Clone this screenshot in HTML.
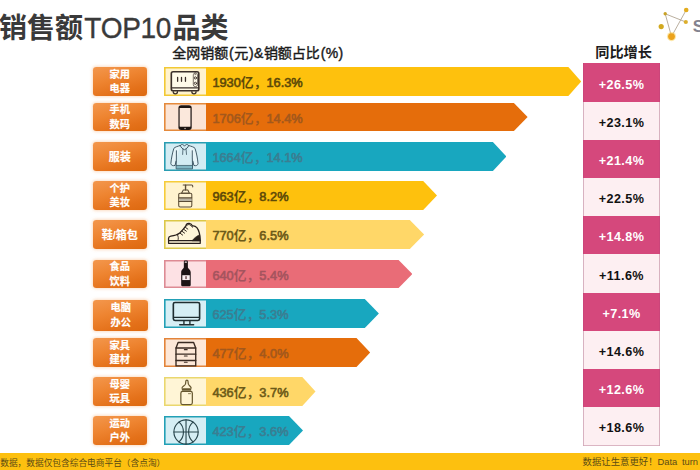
<!DOCTYPE html>
<html lang="zh-CN"><head><meta charset="utf-8"><title>销售额TOP10品类</title>
<style>
*{box-sizing:border-box}
html,body{margin:0;padding:0}
body{width:700px;height:470px;position:relative;overflow:hidden;background:#fff;font-family:"Liberation Sans","Noto Sans CJK SC",sans-serif;color:#222}
.t{font-family:"Liberation Sans","Noto Sans CJK SC",sans-serif;line-height:1;white-space:nowrap}
.abs{position:absolute;white-space:nowrap}
#title{left:-1px;top:12.2px;font-size:28px;line-height:34px;color:#3a3a3a;letter-spacing:0}
#title .t{font-weight:bold}
#title .lat{-webkit-text-stroke:.35px currentColor;display:inline-block;width:89.4px;text-align:center;letter-spacing:-0.3px;transform:scaleY(1.055);transform-origin:0 82%}
#h1{left:172px;top:42.5px;font-size:14px;line-height:20px;color:#1a1a1a;font-weight:normal;letter-spacing:.35px;-webkit-text-stroke:.4px currentColor}
#h1 .t{margin:0 .8px 0 .2px;letter-spacing:0}
#h2{left:595.2px;top:42.3px;font-size:14.2px;line-height:20px;color:#1c1c1c;font-weight:bold}
.lab{position:absolute;left:92.5px;width:54.6px;border-radius:3.2px;background:linear-gradient(165deg,#f3974d 0%,#ee8430 40%,#e4711a 75%,#dd690f 100%);box-shadow:0 0 3px 1px rgba(244,160,90,.35);color:#fff;font-size:10.5px;text-align:center;display:flex;flex-direction:column;justify-content:center;align-items:center;padding-top:1.2px}
.lab .ln{display:block;height:14.5px;line-height:14.5px}
.lab .t{-webkit-text-stroke:.2px #fff}
.ico{position:absolute;left:164px;width:42px}
.ico svg{position:absolute;left:0;top:0;overflow:visible}
.bar{position:absolute;left:206px}
.val{position:absolute;left:212.4px;font-size:12.8px;font-weight:normal;line-height:16px;letter-spacing:0;-webkit-text-stroke:.6px currentColor}
.val .t{font-weight:bold;-webkit-text-stroke:0 transparent}
#col{position:absolute;left:583px;top:63px;width:77px;height:383px;background:#fdeff2;box-shadow:inset 0 0 0 .8px #cfa3b4}
.cell{position:absolute;left:0;width:100%;text-align:center;font-weight:bold;font-size:12.6px;letter-spacing:.4px;color:#111}
.cell.d{background:#d5487c;color:#fff;box-shadow:inset .8px 0 0 #c9457a,inset -.8px 0 0 #c9457a}
#foot{position:absolute;left:0;top:453px;width:700px;height:17px;background:#fdc00f}
#f1{left:0.2px;top:456.7px;font-size:8.7px;line-height:12px;color:#5c4c14}
#f2{left:582.6px;top:455.5px;font-size:9.4px;line-height:12px;color:#5c4c14;letter-spacing:-.1px}
#f2 .t{letter-spacing:0}
#logo{position:absolute;left:650px;top:0;overflow:visible}
#logoS{left:692.8px;top:17.4px;font-size:17px;font-weight:bold;color:#83838f;line-height:20px}
</style></head>
<body>
<h1 id="title" class="abs" style="margin:0;font-weight:normal"><span class="t">销售额</span><span class="lat">TOP10</span><span class="t">品类</span></h1>
<div id="h1" class="abs"><span class="t">全网销额</span>(<span class="t">元</span>)&amp;<span class="t">销额占比</span>(%)</div>
<div id="h2" class="abs"><span class="t">同比增长</span></div>
<svg id="logo" width="50" height="45" viewBox="650 0 50 45" aria-hidden="true">
<g stroke="#a89a86" stroke-width="0.8" fill="none" stroke-linecap="round"><path d="M665.2 13.8L671.5 36.5L686.2 10M665.2 13.8L685.8 22"/></g>
<circle cx="665.2" cy="13.8" r="1.7" fill="#c9a227"/><circle cx="686.2" cy="10" r="2.3" fill="#e3ac1e"/>
<circle cx="685.8" cy="22" r="2.1" fill="#dcae2c"/><circle cx="661.2" cy="26.6" r="2.6" fill="#d2a91f"/>
<circle cx="671.5" cy="36.6" r="4.6" fill="#fbd35e" opacity=".55"/><circle cx="671.5" cy="36.6" r="3.4" fill="#eba21c"/>
</svg>
<div id="logoS" class="abs">S</div>
<section class="row" id="row1">
<div class="lab" style="top:67px;height:29px;font-size:10.2px;font-weight:bold"><span class="ln"><span class="t">家用</span></span><span class="ln"><span class="t">电器</span></span></div>
<div class="ico" style="top:67px;height:29px;background:#fff3cf;box-shadow:inset 1.6px 1.6px 0 #f2c935,inset 0 -1.6px 0 #f2c935"><svg width="42" height="29" viewBox="164 67 42 29" aria-hidden="true"><g transform="translate(160 62) scale(0.080838)"><g fill="none" stroke-linecap="round" stroke-linejoin="round" stroke="#3b302a" stroke-width="20">
<rect x="140" y="120" width="340" height="236" rx="22" fill="#fffbe9"/>
<path d="M142 320H478" stroke-width="17"/>
<rect x="412" y="136" width="52" height="168" rx="22" stroke-width="8"/>
<circle cx="438" cy="197" r="14" stroke-width="11"/><circle cx="438" cy="264" r="14" stroke-width="11"/>
<path d="M432 156H444" stroke-width="8"/>
<path d="M218 192V238M266 192V238M315 192V238" stroke-width="16"/>
<path d="M164 368a26 26 0 0 0 52 0M394 368a26 26 0 0 0 52 0" stroke-width="16"/>
</g></g></svg></div>
<div class="bar" style="top:67px;height:29px;width:375.2px;background:#fec10d;clip-path:polygon(0 0,362.4px 0,100% 50%,362.4px 100%,0 100%)"></div>
<div class="val" style="top:75px;color:#5e4a08">1930<span class="t">亿，</span>16.3%</div>
</section>
<section class="row" id="row2">
<div class="lab" style="top:103px;height:28px;font-size:10.2px;font-weight:bold"><span class="ln"><span class="t">手机</span></span><span class="ln"><span class="t">数码</span></span></div>
<div class="ico" style="top:103px;height:28px;background:#fbe4d5;box-shadow:inset 1.6px 1.6px 0 #e58a3c,inset 0 -1.6px 0 #e58a3c"><svg width="42" height="28" viewBox="164 103 42 28" aria-hidden="true"><g transform="translate(160 98) scale(0.080838)"><g>
<rect x="228" y="90" width="164" height="306" rx="34" fill="#1c1412"/>
<rect x="243" y="124" width="134" height="232" rx="6" fill="#fbe8dc"/>
<circle cx="310" cy="377" r="9" fill="#cdbcb2"/>
</g></g></svg></div>
<div class="bar" style="top:103px;height:28px;width:321.6px;background:#e56d0b;clip-path:polygon(0 0,307.9px 0,100% 50%,307.9px 100%,0 100%)"></div>
<div class="val" style="top:110.5px;color:#a3581c">1706<span class="t">亿，</span>14.4%</div>
</section>
<section class="row" id="row3">
<div class="lab" style="top:142px;height:29px;font-size:11px;font-weight:bold"><span class="ln"><span class="t">服装</span></span></div>
<div class="ico" style="top:142px;height:29px;background:#d3ecf3;box-shadow:inset 1.6px 1.6px 0 #2a9db2,inset 0 -1.6px 0 #2a9db2"><svg width="42" height="29" viewBox="164 142 42 29" aria-hidden="true"><g transform="translate(160 137) scale(0.080838)"><g fill="none" stroke-linecap="round" stroke-linejoin="round" stroke="#3d5663" stroke-width="12">
<path d="M250 106C215 116 185 124 172 140C152 200 140 270 134 330C138 350 158 360 186 352L198 300" fill="#e6f4f8"/>
<path d="M355 106C390 116 420 124 433 140C453 200 465 270 471 330C467 350 447 360 419 352L407 300" fill="#e6f4f8"/>
<path d="M203 170C204 230 202 290 200 350V394H402V350C400 290 398 230 399 170" />
<path d="M200 352H402" stroke-width="10"/>
<path d="M202 356H400V392H202Z" fill="#3f8c9c" stroke="none" opacity=".55"/>
<path d="M250 106C262 86 288 88 302 114C316 88 342 86 355 106C345 130 325 148 302 158C279 148 260 130 250 106Z"/>
<path d="M284 148L280 216M322 148L328 216" stroke-width="10"/>
</g></g></svg></div>
<div class="bar" style="top:142px;height:29px;width:300.4px;background:#18a7bf;clip-path:polygon(0 0,286.9px 0,100% 50%,286.9px 100%,0 100%)"></div>
<div class="val" style="top:150px;color:#3a7e92">1664<span class="t">亿，</span>14.1%</div>
</section>
<section class="row" id="row4">
<div class="lab" style="top:181px;height:29px;font-size:10.2px;font-weight:bold"><span class="ln"><span class="t">个护</span></span><span class="ln"><span class="t">美妆</span></span></div>
<div class="ico" style="top:181px;height:29px;background:#fff3cf;box-shadow:inset 1.6px 1.6px 0 #f6cc3a,inset 0 -1.6px 0 #f6cc3a"><svg width="42" height="29" viewBox="164 181 42 29" aria-hidden="true"><g transform="translate(160 177) scale(0.080838)"><g fill="none" stroke-linecap="round" stroke-linejoin="round" stroke="#5a4b35" stroke-width="13">
<path d="M287 100H392C402 100 406 108 405 122"/>
<path d="M316 102V160" stroke-width="17"/>
<path d="M288 160H344L364 200H266Z"/>
<rect x="231.500" y="200" width="162" height="172" rx="18"/>
<path d="M236 300H390V262H236Z" fill="#b9b3a4" stroke="none"/>
<path d="M234 258H392M234 304H392"/>
</g></g></svg></div>
<div class="bar" style="top:181px;height:29px;width:231px;background:#fec10d;clip-path:polygon(0 0,217.2px 0,100% 50%,217.2px 100%,0 100%)"></div>
<div class="val" style="top:189px;color:#5e4a08">963<span class="t">亿，</span>8.2%</div>
</section>
<section class="row" id="row5">
<div class="lab" style="top:220px;height:29px;font-size:11px;font-weight:bold"><span class="ln"><span class="t">鞋</span>/<span class="t">箱包</span></span></div>
<div class="ico" style="top:220px;height:29px;background:#fff6da;box-shadow:inset 1.6px 1.6px 0 #dcc848,inset 0 -1.6px 0 #dcc848"><svg width="42" height="29" viewBox="164 220 42 29" aria-hidden="true"><g transform="translate(160 216) scale(0.080838)"><g fill="none" stroke-linecap="round" stroke-linejoin="round" stroke="#2a211c" stroke-width="16">
<path d="M106 304V276C106 262 116 254 134 250C176 244 214 234 244 210C274 180 302 150 320 122C324 100 342 90 362 92C382 94 394 104 402 124C420 120 440 128 456 144C482 176 496 240 498 304Z"/>
<path d="M106 304V338H498V304" stroke-width="15"/>
<path d="M216 232C228 256 230 282 222 302" stroke-width="11"/>
<path d="M250 214L280 236M274 190L304 212M296 166L326 188M316 142L344 162" stroke-width="12"/>
<path d="M324 124C336 106 356 100 372 110C382 120 390 132 402 140" stroke-width="10"/>
<path d="M398 304C422 272 452 248 490 232C494 256 497 280 497 304Z" fill="#2a211c" stroke-width="6"/>
</g></g></svg></div>
<div class="bar" style="top:220px;height:29px;width:218.1px;background:#ffd768;clip-path:polygon(0 0,203.8px 0,100% 50%,203.8px 100%,0 100%)"></div>
<div class="val" style="top:228px;color:#6d5a18">770<span class="t">亿，</span>6.5%</div>
</section>
<section class="row" id="row6">
<div class="lab" style="top:260px;height:28px;font-size:10.2px;font-weight:bold"><span class="ln"><span class="t">食品</span></span><span class="ln"><span class="t">饮料</span></span></div>
<div class="ico" style="top:260px;height:28px;background:#fde1e4;box-shadow:inset 1.6px 1.6px 0 #dd8b94,inset 0 -1.6px 0 #dd8b94"><svg width="42" height="28" viewBox="164 260 42 28" aria-hidden="true"><g transform="translate(160 255) scale(0.080838)"><g>
<path d="M295 84C295 74 301 68 310 68H330C339 68 345 74 345 84V150C345 168 380 178 380 214V372C380 380 375 386 367 386H275C267 386 262 380 262 372V214C262 178 295 168 295 150Z" fill="#1d1315"/>
<rect x="276" y="250" width="92" height="60" fill="#fbeef0"/>
<rect x="312" y="262" width="20" height="36" fill="#7a5a5e"/>
<rect x="304" y="80" width="30" height="16" rx="6" fill="#f3dfe1"/>
</g></g></svg></div>
<div class="bar" style="top:260px;height:28px;width:206.4px;background:#e96c77;clip-path:polygon(0 0,192.6px 0,100% 50%,192.6px 100%,0 100%)"></div>
<div class="val" style="top:267.5px;color:#a5545e">640<span class="t">亿，</span>5.4%</div>
</section>
<section class="row" id="row7">
<div class="lab" style="left:93.4px;top:300px;height:30.5px;font-size:10.2px;font-weight:bold"><span class="ln"><span class="t">电脑</span></span><span class="ln"><span class="t">办公</span></span></div>
<div class="ico" style="top:299px;height:29px;background:#d6eff5;box-shadow:inset 1.6px 1.6px 0 #22a0b6,inset 0 -1.6px 0 #22a0b6"><svg width="42" height="29" viewBox="164 299 42 29" aria-hidden="true"><g transform="translate(160 294) scale(0.080838)"><g fill="none" stroke-linecap="round" stroke-linejoin="round" stroke="#1f2e31" stroke-width="20">
<rect x="165" y="105" width="325" height="222" rx="20"/>
<path d="M170 290H486" stroke-width="16"/>
<path d="M296 330V376M370 330V376" stroke-width="17"/>
<path d="M244 380H416" stroke-width="18"/>
</g></g></svg></div>
<div class="bar" style="top:299px;height:29px;width:172.9px;background:#18a7bf;clip-path:polygon(0 0,158.8px 0,100% 50%,158.8px 100%,0 100%)"></div>
<div class="val" style="top:307px;color:#3a7e92">625<span class="t">亿，</span>5.3%</div>
</section>
<section class="row" id="row8">
<div class="lab" style="top:338px;height:29px;font-size:10.2px;font-weight:bold"><span class="ln"><span class="t">家具</span></span><span class="ln"><span class="t">建材</span></span></div>
<div class="ico" style="top:338px;height:29px;background:#fde7d7;box-shadow:inset 1.6px 1.6px 0 #e3843a,inset 0 -1.6px 0 #e3843a"><svg width="42" height="29" viewBox="164 338 42 29" aria-hidden="true"><g transform="translate(160 333) scale(0.080838)"><g fill="none" stroke-linecap="round" stroke-linejoin="round" stroke="#3a2a22" stroke-width="17">
<path d="M224 118H416L442 186H198Z"/>
<path d="M198 186V407H442V186"/>
<path d="M198 262H442M198 340H442"/>
<path d="M302 206H336M302 284H336M302 362H336" stroke-width="14"/>
</g></g></svg></div>
<div class="bar" style="top:338px;height:29px;width:164.2px;background:#e56d0b;clip-path:polygon(0 0,150.5px 0,100% 50%,150.5px 100%,0 100%)"></div>
<div class="val" style="top:346px;color:#a3581c">477<span class="t">亿，</span>4.0%</div>
</section>
<section class="row" id="row9">
<div class="lab" style="top:377px;height:29px;font-size:10.2px;font-weight:bold"><span class="ln"><span class="t">母婴</span></span><span class="ln"><span class="t">玩具</span></span></div>
<div class="ico" style="top:377px;height:29px;background:#fff5d6;box-shadow:inset 1.6px 1.6px 0 #ead76e,inset 0 -1.6px 0 #ead76e"><svg width="42" height="29" viewBox="164 377 42 29" aria-hidden="true"><g transform="translate(160 372) scale(0.080838)"><g fill="none" stroke-linecap="round" stroke-linejoin="round" stroke="#66572f" stroke-width="15">
<rect x="258" y="240" width="142" height="163" rx="22"/>
<path d="M270 216H386" stroke-width="30" stroke-linecap="butt"/>
<path d="M272 198C276 178 306 172 315 150C319 130 317 112 324 104C329 100 337 100 342 104C349 112 347 130 351 150C360 172 382 178 386 198"/>
<path d="M352 268H378" stroke-width="9"/>
</g></g></svg></div>
<div class="bar" style="top:377px;height:29px;width:109.5px;background:#ffd768;clip-path:polygon(0 0,96.3px 0,100% 50%,96.3px 100%,0 100%)"></div>
<div class="val" style="top:385px;color:#6d5a18">436<span class="t">亿，</span>3.7%</div>
</section>
<section class="row" id="row10">
<div class="lab" style="top:416px;height:29px;font-size:10.2px;font-weight:bold"><span class="ln"><span class="t">运动</span></span><span class="ln"><span class="t">户外</span></span></div>
<div class="ico" style="top:416px;height:29px;background:#d5eef4;box-shadow:inset 1.6px 1.6px 0 #22a0b6,inset 0 -1.6px 0 #22a0b6"><svg width="42" height="29" viewBox="164 416 42 29" aria-hidden="true"><g transform="translate(160 411) scale(0.080838)"><g fill="none" stroke-linecap="round" stroke-linejoin="round" stroke="#2b484f" stroke-width="14">
<circle cx="322" cy="260" r="150"/>
<path d="M322 110V410M172 260H472"/>
<path d="M236 138C308 200 308 320 236 382M408 138C336 200 336 320 408 382"/>
</g></g></svg></div>
<div class="bar" style="top:416px;height:29px;width:97px;background:#18a7bf;clip-path:polygon(0 0,83px 0,100% 50%,83px 100%,0 100%)"></div>
<div class="val" style="top:424px;color:#3a7e92">423<span class="t">亿，</span>3.6%</div>
</section>
<div id="col">
<div class="cell d" style="top:0px;height:39px;line-height:44.60px">+26.5%</div>
<div class="cell" style="top:39px;height:38px;line-height:42.94px">+23.1%</div>
<div class="cell d" style="top:77px;height:38px;line-height:43.28px">+21.4%</div>
<div class="cell" style="top:115px;height:38px;line-height:43.62px">+22.5%</div>
<div class="cell d" style="top:153px;height:38px;line-height:43.96px">+14.8%</div>
<div class="cell" style="top:191px;height:39px;line-height:44.30px">+11.6%</div>
<div class="cell d" style="top:230px;height:38px;line-height:42.64px">+7.1%</div>
<div class="cell" style="top:268px;height:38px;line-height:42.98px">+14.6%</div>
<div class="cell d" style="top:306px;height:38px;line-height:43.32px">+12.6%</div>
<div class="cell" style="top:344px;height:38px;line-height:43.66px">+18.6%</div>
</div>
<div id="foot"></div>
<div id="f1" class="abs"><span class="t">数据，数据仅包含综合电商平台（含点淘）</span></div>
<div id="f2" class="abs"><span class="t">数据让生意更好！</span>Data&nbsp; turn</div>
</body></html>
